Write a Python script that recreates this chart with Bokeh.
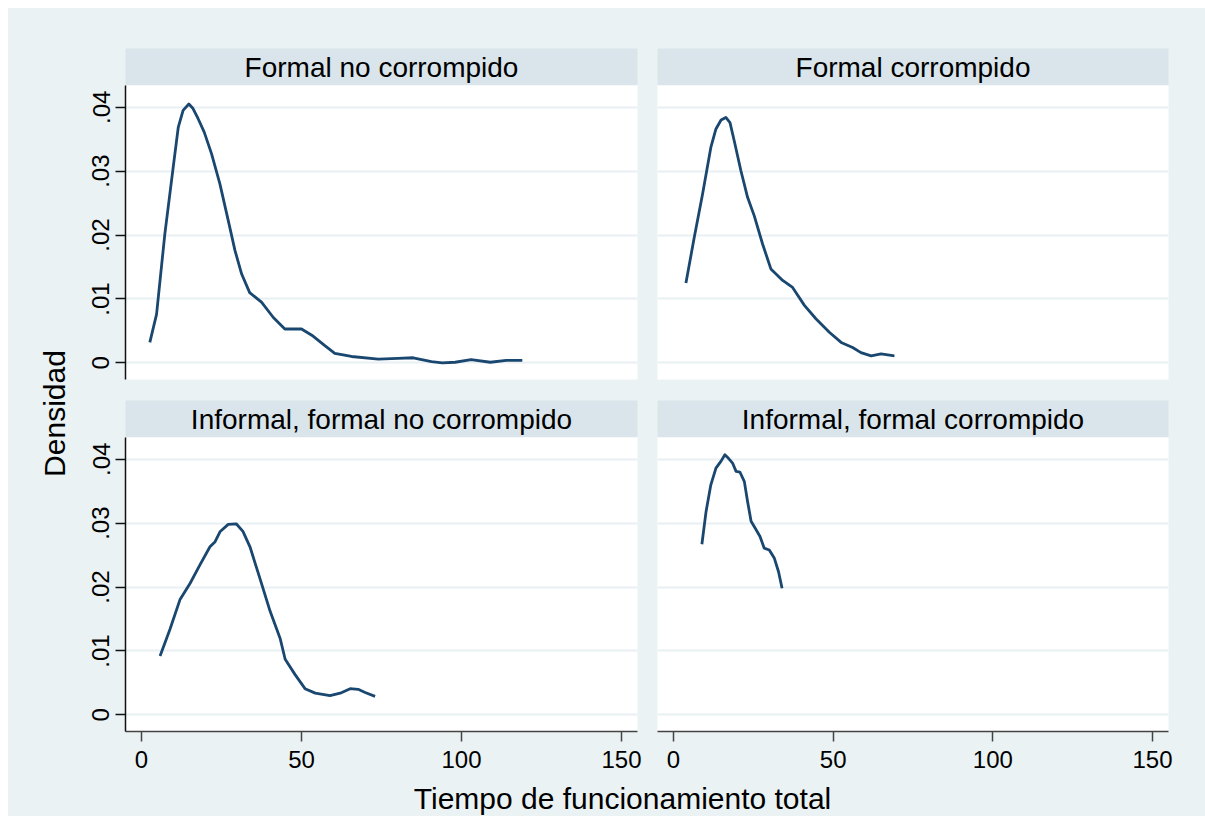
import math
from bokeh.plotting import figure
from bokeh.models import (Range1d, LinearAxis, Grid, FixedTicker,
                          CustomJSTickFormatter, Label)
from bokeh.layouts import row, column
from bokeh.embed import file_html
from bokeh.resources import INLINE

# ---------------- data ----------------
panel_titles = ["Formal no corrompido", "Formal corrompido",
                "Informal, formal no corrompido", "Informal, formal corrompido"]
x_ticks = [0, 50, 100, 150]
y_ticks = [0, 0.01, 0.02, 0.03, 0.04]
x_label = "Tiempo de funcionamiento total"
y_label = "Densidad"

# Formal no corrompido
fnc_x = [2.6, 4.7, 7.3, 9.9, 11.5, 13.0, 14.8, 16.1, 17.7, 19.6, 21.9, 24.5,
         27.1, 29.2, 31.3, 33.8, 37.5, 41.2, 44.8, 50.0, 53.6, 57.3, 60.4,
         65.6, 74.0, 80.2, 84.9, 90.6, 94.0, 98.0, 103.0, 109.0, 114.0, 119.0]
fnc_y = [0.0032, 0.0076, 0.0202, 0.0306, 0.0369, 0.0395, 0.0405, 0.0398,
         0.0382, 0.0361, 0.0327, 0.0280, 0.0223, 0.0176, 0.0139, 0.0110,
         0.0095, 0.0071, 0.0053, 0.0053, 0.0042, 0.0027, 0.0015, 0.0010,
         0.0006, 0.0007, 0.0008, 0.0002, 0.0000, 0.0001, 0.0005, 0.0001,
         0.0004, 0.0004]

# Formal corrompido
fc_x = [3.9, 6.5, 9.1, 11.7, 13.3, 14.9, 16.4, 17.7, 19.0, 21.1, 23.2, 25.3,
        27.9, 30.5, 34.2, 37.3, 41.0, 44.6, 48.8, 52.5, 56.1, 58.7, 61.9,
        65.0, 69.2]
fc_y = [0.0125, 0.0196, 0.0264, 0.0337, 0.0366, 0.0380, 0.0384, 0.0376,
        0.0348, 0.0301, 0.0259, 0.0230, 0.0186, 0.0147, 0.0129, 0.0118,
        0.0090, 0.0069, 0.0048, 0.0032, 0.0024, 0.0016, 0.0011, 0.0014,
        0.0011]

# Informal, formal no corrompido
ifnc_x = [5.8, 8.9, 12.0, 15.2, 18.3, 21.4, 23.0, 24.6, 27.1, 29.6, 31.7,
          33.9, 37.1, 40.2, 43.3, 44.9, 48.0, 51.1, 54.3, 58.9, 62.1, 65.2,
          67.7, 69.9, 73.0]
ifnc_y = [0.0092, 0.0134, 0.0180, 0.0206, 0.0235, 0.0263, 0.0271, 0.0287,
          0.0298, 0.0299, 0.0287, 0.0263, 0.0212, 0.0162, 0.0120, 0.0087,
          0.0063, 0.0041, 0.0034, 0.0030, 0.0034, 0.0041, 0.0040, 0.0035,
          0.0029]

# Informal, formal corrompido
ifc_x = [8.9, 10.2, 11.7, 13.3, 14.9, 16.1, 17.3, 18.5, 19.6, 20.8, 22.2,
         23.2, 24.3, 25.6, 27.1, 28.4, 30.0, 31.6, 32.9, 34.0]
ifc_y = [0.0267, 0.0318, 0.0360, 0.0386, 0.0397, 0.0407, 0.0401, 0.0394,
         0.0381, 0.0380, 0.0365, 0.0334, 0.0303, 0.0292, 0.0279, 0.0261,
         0.0258, 0.0245, 0.0224, 0.0198]

series = [(fnc_x, fnc_y), (fc_x, fc_y), (ifnc_x, ifnc_y), (ifc_x, ifc_y)]

# ---------------- style ----------------
OUTER = "#EAF2F3"
HEADER = "#D9E5EB"
GRID = "#E8F0F3"
LINE = "#1A476F"
FONT = "Liberation Sans"

YL_W = 72
L_LEFT, L_RIGHT = 45, 10
R_LEFT, R_RIGHT = 10, 37
LEFT_W = L_LEFT + 512 + L_RIGHT
RIGHT_W = R_LEFT + 511 + R_RIGHT
X_RANGE = (-5.0, 155.0)
Y_RANGE = (-0.0026, 0.0434)


def base_fig(w, h, **kw):
    f = figure(width=w, height=h, title=None, toolbar_location=None,
               output_backend="svg", x_axis_location=None, y_axis_location=None,
               border_fill_color=OUTER, outline_line_color=None, **kw)
    f.grid.visible = False
    return f


def header(title, left, top_border):
    h = base_fig(LEFT_W if left else RIGHT_W, 37 + top_border,
                 x_range=Range1d(0, 1), y_range=Range1d(0, 1),
                 min_border_left=L_LEFT if left else R_LEFT,
                 min_border_right=L_RIGHT if left else R_RIGHT,
                 min_border_top=top_border, min_border_bottom=0,
                 background_fill_color=HEADER)
    h.add_layout(Label(x=0.5, y=0.5, text=title, text_align="center",
                       text_baseline="middle", text_font=FONT,
                       text_font_size="28px", text_color="#000000"))
    return h


def panel(xs, ys, left, bottom_row):
    bb = 49 if bottom_row else 21
    p = base_fig(LEFT_W if left else RIGHT_W, 294 + bb,
                 x_range=Range1d(*X_RANGE), y_range=Range1d(*Y_RANGE),
                 min_border_left=L_LEFT if left else R_LEFT,
                 min_border_right=L_RIGHT if left else R_RIGHT,
                 min_border_top=0, min_border_bottom=bb,
                 background_fill_color="white")
    p.add_layout(Grid(dimension=1, ticker=FixedTicker(ticks=y_ticks),
                      grid_line_color=GRID, grid_line_width=2))
    if left:
        ya = LinearAxis(ticker=FixedTicker(ticks=y_ticks),
                        formatter=CustomJSTickFormatter(
                            code="return tick == 0 ? '0' : tick.toFixed(2).replace(/^0/, '');"),
                        major_label_orientation="vertical",
                        major_tick_out=10, major_tick_in=0,
                        minor_tick_out=0, minor_tick_in=0,
                        axis_line_color="#111111", axis_line_width=1.5,
                        major_tick_line_color="#111111", major_tick_line_width=1.5,
                        major_label_text_font=FONT,
                        major_label_text_font_size="24px",
                        major_label_text_color="#000000",
                        major_label_standoff=6)
        p.add_layout(ya, "left")
    if bottom_row:
        xa = LinearAxis(ticker=FixedTicker(ticks=x_ticks),
                        major_tick_out=10, major_tick_in=0,
                        minor_tick_out=0, minor_tick_in=0,
                        axis_line_color="#444444", axis_line_width=1.5,
                        major_tick_line_color="#444444", major_tick_line_width=1.5,
                        major_label_text_font=FONT,
                        major_label_text_font_size="24px",
                        major_label_text_color="#000000",
                        major_label_standoff=9)
        p.add_layout(xa, "below")
    p.line(xs, ys, line_color=LINE, line_width=2.8, line_join="round")
    return p


h1 = header(panel_titles[0], True, 40)
h2 = header(panel_titles[1], False, 40)
p1 = panel(*series[0], True, False)
p2 = panel(*series[1], False, False)
h3 = header(panel_titles[2], True, 0)
h4 = header(panel_titles[3], False, 0)
p3 = panel(*series[2], True, True)
p4 = panel(*series[3], False, True)

# x-axis title strip
XL_H = 36
xl = base_fig(LEFT_W + RIGHT_W, XL_H, x_range=Range1d(0, 1), y_range=Range1d(0, 1),
              min_border_left=0, min_border_right=0, min_border_top=0,
              min_border_bottom=0, background_fill_color=OUTER)
xl.add_layout(Label(x=(622 - 8 - YL_W) / (LEFT_W + RIGHT_W), y=18.5 / XL_H,
                    text=x_label, text_align="center",
                    text_baseline="middle", text_font=FONT,
                    text_font_size="30px", text_color="#000000"))

TOTAL_H = 77 + 315 + 37 + 343 + XL_H
# y-axis title strip
yl = base_fig(YL_W, TOTAL_H, x_range=Range1d(0, 1), y_range=Range1d(0, 1),
              min_border_left=0, min_border_right=0, min_border_top=0,
              min_border_bottom=0, background_fill_color=OUTER)
yl.add_layout(Label(x=(54 - 8) / YL_W, y=1 - (413 - 8) / TOTAL_H, text=y_label,
                    angle=math.pi / 2, text_align="center",
                    text_baseline="middle", text_font=FONT,
                    text_font_size="30px", text_color="#000000"))

grid = column(row(h1, h2, styles={"background-color": OUTER}),
              row(p1, p2, styles={"background-color": OUTER}),
              row(h3, h4, styles={"background-color": OUTER}),
              row(p3, p4, styles={"background-color": OUTER}),
              xl, styles={"background-color": OUTER})
layout = row(yl, grid, margin=(8, 0, 0, 8), styles={"background-color": OUTER})

open("out.html", "w").write(file_html(layout, INLINE))
